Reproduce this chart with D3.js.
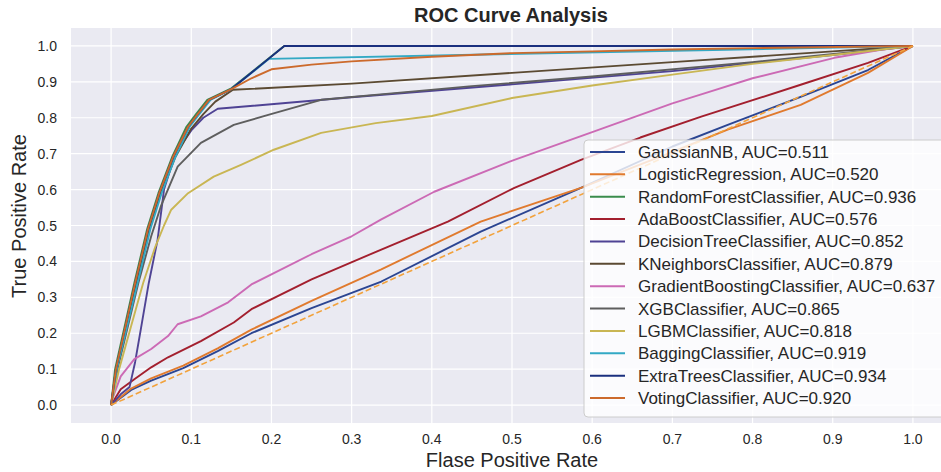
<!DOCTYPE html>
<html>
<head>
<meta charset="utf-8">
<script src="https://cdn.jsdelivr.net/npm/d3@7"></script>
<style>
  body { margin: 0; background: #fff; }
  text { font-family: "Liberation Sans", Arial, sans-serif; fill: #262626; }
</style>
</head>
<body>
<div id="rocVis"></div>
<script>
// model names + auc, same order as the legend
const models = ["GaussianNB", "LogisticRegression", "RandomForestClassifier", "AdaBoostClassifier",
  "DecisionTreeClassifier", "KNeighborsClassifier", "GradientBoostingClassifier", "XGBClassifier",
  "LGBMClassifier", "BaggingClassifier", "ExtraTreesClassifier", "VotingClassifier"]
const aucs = [0.511, 0.520, 0.936, 0.576, 0.852, 0.879, 0.637, 0.865, 0.818, 0.919, 0.934, 0.920]
const tickValues = [0, 0.1, 0.2, 0.3, 0.4, 0.5, 0.6, 0.7, 0.8, 0.9, 1.0]
const tickLabels = ["0.0", "0.1", "0.2", "0.3", "0.4", "0.5", "0.6", "0.7", "0.8", "0.9", "1.0"]

// [fpr, tpr] points
const rocGaussianNB = [[0,0],[0.025,0.042],[0.05,0.068],[0.09,0.103],[0.133,0.15],[0.175,0.2],[0.25,0.27],
  [0.337,0.344],[0.461,0.483],[0.586,0.605],[0.7,0.72],[0.769,0.78],[0.86,0.858],[0.944,0.933],[1,1]]
const rocLogistic = [[0,0],[0.025,0.046],[0.05,0.074],[0.09,0.11],[0.133,0.158],[0.175,0.21],[0.25,0.29],
  [0.337,0.378],[0.461,0.511],[0.586,0.605],[0.7,0.705],[0.769,0.767],[0.86,0.836],[0.944,0.925],[1,1]]
const rocRandomForest = [[0,0],[0.005,0.1],[0.016,0.21],[0.029,0.34],[0.045,0.49],[0.059,0.59],[0.076,0.69],
  [0.094,0.775],[0.106,0.81],[0.12,0.85],[0.15,0.882],[0.216,1.0],[1,1]]
const rocAdaBoost = [[0,0],[0.012,0.044],[0.029,0.072],[0.05,0.105],[0.071,0.133],[0.112,0.178],[0.153,0.23],
  [0.175,0.267],[0.25,0.35],[0.337,0.433],[0.42,0.511],[0.503,0.605],[0.586,0.683],[0.66,0.745],[0.736,0.803],
  [0.86,0.892],[0.944,0.953],[1,1]]
const rocDecisionTree = [[0,0],[0.012,0.03],[0.023,0.05],[0.03,0.12],[0.037,0.21],[0.047,0.34],[0.058,0.46],
  [0.066,0.6],[0.08,0.7],[0.1,0.765],[0.115,0.8],[0.133,0.825],[0.3,0.857],[0.5,0.893],[0.7,0.93],[0.9,0.975],[1,1]]
const rocKNeighbors = [[0,0],[0.007,0.1],[0.018,0.21],[0.032,0.34],[0.048,0.49],[0.062,0.59],[0.08,0.69],
  [0.1,0.77],[0.115,0.81],[0.13,0.845],[0.152,0.878],[0.3,0.895],[0.5,0.925],[0.7,0.955],[0.9,0.985],[1,1]]
const rocGradientBoosting = [[0,0],[0.002,0.02],[0.012,0.08],[0.029,0.128],[0.05,0.156],[0.071,0.192],[0.083,0.225],
  [0.112,0.247],[0.146,0.286],[0.175,0.336],[0.25,0.42],[0.3,0.47],[0.337,0.517],[0.403,0.594],[0.503,0.683],
  [0.6,0.76],[0.7,0.84],[0.736,0.865],[0.8,0.91],[0.902,0.967],[0.96,0.989],[1,1]]
const rocXGB = [[0,0],[0.008,0.1],[0.02,0.21],[0.034,0.34],[0.05,0.47],[0.062,0.553],[0.083,0.664],[0.112,0.73],
  [0.153,0.78],[0.196,0.808],[0.262,0.85],[0.35,0.868],[0.45,0.888],[0.6,0.915],[0.8,0.955],[1,1]]
const rocLGBM = [[0,0],[0.01,0.1],[0.025,0.22],[0.04,0.34],[0.055,0.44],[0.066,0.5],[0.075,0.544],[0.096,0.59],
  [0.128,0.636],[0.162,0.669],[0.203,0.711],[0.262,0.758],[0.33,0.785],[0.4,0.805],[0.5,0.855],[0.6,0.89],
  [0.7,0.92],[0.8,0.95],[0.9,0.975],[1,1]]
const rocBagging = [[0,0],[0.007,0.1],[0.019,0.21],[0.033,0.34],[0.049,0.49],[0.063,0.59],[0.08,0.69],[0.098,0.775],
  [0.11,0.81],[0.124,0.85],[0.15,0.88],[0.197,0.964],[1,1]]
const rocExtraTrees = [[0,0],[0.006,0.1],[0.017,0.21],[0.03,0.34],[0.046,0.49],[0.06,0.59],[0.077,0.69],
  [0.096,0.775],[0.108,0.81],[0.122,0.85],[0.15,0.88],[0.216,1.0],[1,1]]
const rocVoting = [[0,0],[0.006,0.1],[0.017,0.21],[0.03,0.34],[0.046,0.49],[0.06,0.59],[0.077,0.69],[0.096,0.775],
  [0.108,0.81],[0.122,0.85],[0.15,0.88],[0.175,0.91],[0.2,0.935],[0.25,0.948],[0.3,0.957],[0.4,0.97],[0.5,0.98],
  [0.6,0.985],[0.7,0.99],[0.8,0.994],[1,1]]
const chanceLine = [[0,0],[1,1]]

const curves = [rocGaussianNB, rocLogistic, rocRandomForest, rocAdaBoost, rocDecisionTree, rocKNeighbors,
  rocGradientBoosting, rocXGB, rocLGBM, rocBagging, rocExtraTrees, rocVoting]

function drawRocVis(){
    let width = 941
    let height = 472
    let plot = {left: 71, right: 953, top: 28, bottom: 423}
    let colours = ["#2b4592", "#e07a2e", "#3a8c4c", "#a31f2e", "#4f4394", "#5b4a32",
                   "#cc6ab5", "#5e5e5e", "#c9b653", "#33a9c4", "#1a2f7e", "#cc6a2c"]

    let svg = d3.select("#rocVis")
        .append("svg")
            .attr("width", width)
            .attr("height", height)

    let xScale = d3.scaleLinear()
        .domain([-0.05, 1.05])
        .range([plot.left, plot.right])
    let yScale = d3.scaleLinear()
        .domain([-0.05, 1.05])
        .range([plot.bottom, plot.top])

    svg.append("rect")
        .attr("x", plot.left)
        .attr("y", plot.top)
        .attr("width", plot.right - plot.left)
        .attr("height", plot.bottom - plot.top)
        .attr("fill", "#eaeaf2")

    // grid
    svg.selectAll(".vGrid")
        .data(tickValues)
        .enter()
        .append("line")
            .attr("x1", d => xScale(d))
            .attr("x2", d => xScale(d))
            .attr("y1", plot.top)
            .attr("y2", plot.bottom)
            .attr("stroke", "white")
            .attr("stroke-width", 1.2)
    svg.selectAll(".hGrid")
        .data(tickValues)
        .enter()
        .append("line")
            .attr("y1", d => yScale(d))
            .attr("y2", d => yScale(d))
            .attr("x1", plot.left)
            .attr("x2", plot.right)
            .attr("stroke", "white")
            .attr("stroke-width", 1.2)

    // tick labels
    svg.selectAll(".xTick")
        .data(tickValues)
        .enter()
        .append("text")
            .attr("x", d => xScale(d))
            .attr("y", 444)
            .attr("text-anchor", "middle")
            .attr("font-size", "14px")
            .text((d,i) => tickLabels[i])
    svg.selectAll(".yTick")
        .data(tickValues)
        .enter()
        .append("text")
            .attr("x", 57)
            .attr("y", d => yScale(d) + 5)
            .attr("text-anchor", "end")
            .attr("font-size", "14px")
            .text((d,i) => tickLabels[i])

    let line = d3.line()
        .x(d => xScale(d[0]))
        .y(d => yScale(d[1]))

    svg.selectAll(".roc")
        .data(curves)
        .enter()
        .append("path")
            .attr("class", "roc")
            .attr("fill", "none")
            .attr("stroke", (d,i) => colours[i])
            .attr("stroke-width", 1.9)
            .attr("stroke-linejoin", "round")
            .attr("d", d => line(d))

    svg.append("path")
        .attr("fill", "none")
        .attr("stroke", "#f2a23c")
        .attr("stroke-width", 1.6)
        .attr("stroke-dasharray", "6,3")
        .attr("d", line(chanceLine))

    // titles
    svg.append("text")
        .attr("x", 511)
        .attr("y", 22)
        .attr("text-anchor", "middle")
        .attr("font-size", "20px")
        .attr("font-weight", "bold")
        .text("ROC Curve Analysis")
    svg.append("text")
        .attr("x", 512)
        .attr("y", 467)
        .attr("text-anchor", "middle")
        .attr("font-size", "20px")
        .text("Flase Positive Rate")
    svg.append("text")
        .attr("transform", "translate(26,216) rotate(-90)")
        .attr("text-anchor", "middle")
        .attr("font-size", "20px")
        .text("True Positive Rate")

    // legend
    let legend = svg.append("g")
    legend.append("rect")
        .attr("x", 584)
        .attr("y", 140)
        .attr("width", 362)
        .attr("height", 277)
        .attr("rx", 4)
        .attr("fill", "white")
        .attr("fill-opacity", 0.8)
        .attr("stroke", "#cccccc")
    let rowScale = d3.scaleLinear()
        .domain([0, models.length - 1])
        .range([152, 398])
    legend.selectAll(".legLine")
        .data(models)
        .enter()
        .append("line")
            .attr("x1", 590)
            .attr("x2", 625)
            .attr("y1", (d,i) => rowScale(i))
            .attr("y2", (d,i) => rowScale(i))
            .attr("stroke", (d,i) => colours[i])
            .attr("stroke-width", 2)
    legend.selectAll(".legText")
        .data(models)
        .enter()
        .append("text")
            .attr("x", 638)
            .attr("y", (d,i) => rowScale(i) + 6)
            .attr("font-size", "17px")
            .text((d,i) => d + ", AUC=" + aucs[i].toFixed(3))
}
drawRocVis()
</script>
</body>
</html>
